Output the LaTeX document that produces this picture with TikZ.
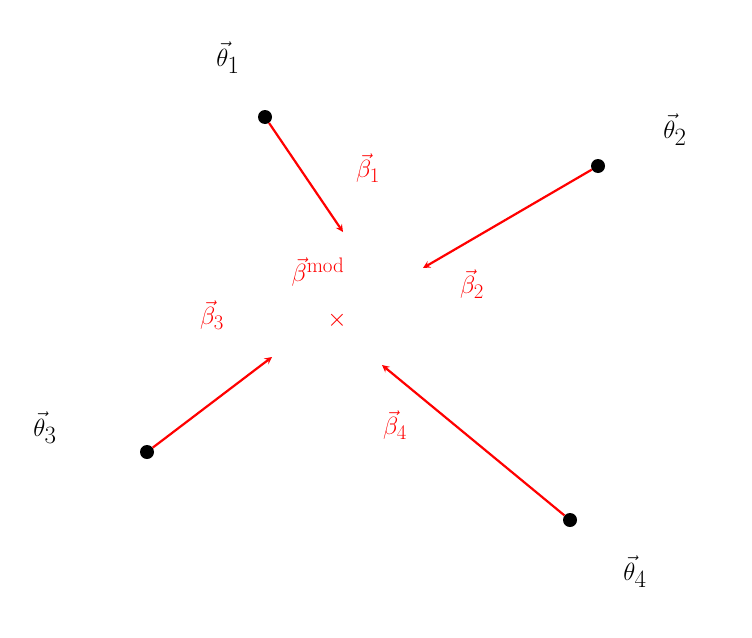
\documentclass[tikz,border=0pt]{standalone}
\usepackage{amsmath}
\usetikzlibrary{positioning}
\tikzset{
    pt/.style = {circle, fill = black, inner sep = 0pt, minimum size = 14pt},
    lab/.style = {font = \fontsize{36}{40}\selectfont},
    rlab/.style = {text = red, font = \fontsize{30}{34}\selectfont},
    vec/.style = {->, red, line width = 2.2pt, >=stealth}
}
\begin{document}
\begin{tikzpicture}[x = 1pt, y = -1pt]
    \useasboundingbox (0,0) rectangle (752,637);
    \node[pt] (t1) at (265,117) {};
    \node[pt] (t2) at (598,166) {};
    \node[pt] (t3) at (147,452) {};
    \node[pt] (t4) at (570,520) {};
    \coordinate (h1) at (343,232);
    \coordinate (h2) at (423,268);
    \coordinate (h3) at (272,357);
    \coordinate (h4) at (382,365);
    \node[lab] (l1) at (228,58) {$\vec{\theta}_1$};
    \node[lab] (l2) at (675,130) {$\vec{\theta}_2$};
    \node[lab] (l3) at (45,428) {$\vec{\theta}_3$};
    \node[lab] (l4) at (635,572) {$\vec{\theta}_4$};
    \node[rlab] (b1) at (368,168) {$\vec{\beta}_1$};
    \node[rlab] (b2) at (472,284) {$\vec{\beta}_2$};
    \node[rlab] (b3) at (212,315) {$\vec{\beta}_3$};
    \node[rlab] (b4) at (395,425) {$\vec{\beta}_4$};
    \node[rlab] (bm) at (318,272) {$\vec{\beta}^{\text{mod}}$};
    \node[text = red, font = \fontsize{26}{28}\selectfont] (x) at (337,320) {$\times$};
    \draw[vec] (t1) -- (h1);
    \draw[vec] (t2) -- (h2);
    \draw[vec] (t3) -- (h3);
    \draw[vec] (t4) -- (h4);
\end{tikzpicture}
\end{document}
